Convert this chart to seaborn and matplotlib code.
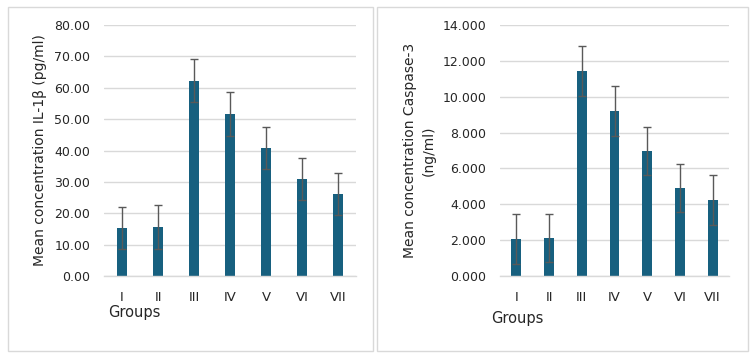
import matplotlib
matplotlib.use("Agg")
import matplotlib.pyplot as plt
from matplotlib.patches import Rectangle
from matplotlib.ticker import MultipleLocator, StrMethodFormatter
import seaborn as sns
import numpy as np
import pandas as pd

# data
groups = ["I", "II", "III", "IV", "V", "VI", "VII"]
il1b_mean = [15.3, 15.6, 62.2, 51.6, 40.8, 30.9, 26.1]
il1b_err = [6.8, 6.9, 6.9, 6.9, 6.8, 6.6, 6.6]
casp_mean = [2.06, 2.12, 11.43, 9.20, 6.97, 4.91, 4.24]
casp_err = [1.38, 1.32, 1.38, 1.38, 1.32, 1.32, 1.37]

sns.set_style("white")
plt.rcParams["font.family"] = ["DejaVu Sans"]

bar_color = "#17607f"
grid_color = "#d9d9d9"
text_color = "#262626"

fig = plt.figure(figsize=(7.53, 3.55), dpi=100)

# panel frames
for x0, w in [(8, 365), (377, 371)]:
    fig.patches.append(Rectangle((x0 / 753, 4 / 355), w / 753, 344 / 355,
                                 transform=fig.transFigure, fill=False,
                                 edgecolor=grid_color, linewidth=1))

ax1 = fig.add_axes([104 / 753, 79 / 355, 252 / 753, 251 / 355])
ax2 = fig.add_axes([500 / 753, 79 / 355, 229 / 753, 251 / 355])

panels = [
    (ax1, il1b_mean, il1b_err, 80, 10, "{x:.2f}", "Mean concentration IL-1β (pg/ml)",
     (-0.226, 0.5), (0.016, -0.147)),
    (ax2, casp_mean, casp_err, 14, 2, "{x:.3f}", "Mean concentration Caspase-3\n(ng/ml)",
     (-0.28, 0.5), (-0.039, -0.171)),
]

for ax, mean, err, ymax, step, fmt, ylab, ylab_xy, xlab_xy in panels:
    df = pd.DataFrame({"Group": groups, "Mean": mean})
    sns.barplot(data=df, x="Group", y="Mean", ax=ax, color=bar_color,
                saturation=1, width=0.3, linewidth=0, zorder=2)
    ax.errorbar(np.arange(len(groups)), mean, yerr=err, fmt="none",
                ecolor="#595959", elinewidth=1, capsize=3, capthick=1, zorder=3)

    ax.set_xlim(-0.5, len(groups) - 0.5)
    ax.set_ylim(0, ymax)
    ax.yaxis.set_major_locator(MultipleLocator(step))
    ax.yaxis.set_major_formatter(StrMethodFormatter(fmt))
    ax.grid(axis="y", color=grid_color, linewidth=1)
    ax.set_axisbelow(True)
    for s in ["top", "right", "left"]:
        ax.spines[s].set_visible(False)
    ax.spines["bottom"].set_color(grid_color)
    ax.spines["bottom"].set_linewidth(1)
    ax.tick_params(axis="y", length=0, pad=10, labelsize=9, labelcolor=text_color)
    ax.tick_params(axis="x", length=0, pad=11, labelsize=9.5, labelcolor=text_color)

    ax.set_ylabel(ylab, fontsize=10, color=text_color, linespacing=1.4)
    ax.yaxis.set_label_coords(*ylab_xy)
    ax.set_xlabel("Groups", fontsize=10.5, color=text_color, ha="left", va="center")
    ax.xaxis.set_label_coords(*xlab_xy)

fig.savefig("out.png", dpi=100, facecolor="white")
